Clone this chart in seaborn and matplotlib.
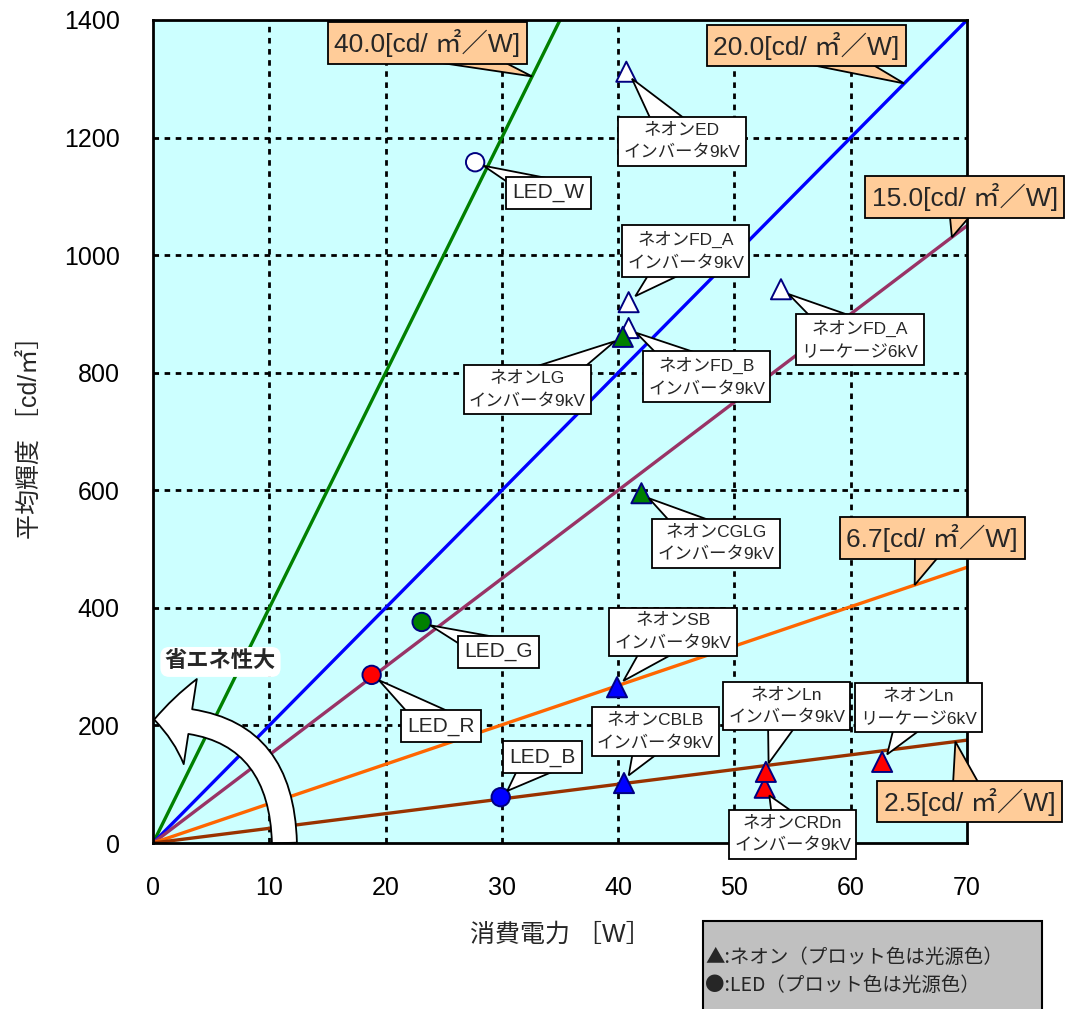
import matplotlib
matplotlib.use("Agg")
import matplotlib.pyplot as plt
import seaborn as sns
import pandas as pd
import numpy as np
from matplotlib.patches import FancyArrowPatch, Rectangle, Polygon
from matplotlib.transforms import IdentityTransform

# ---------------- data ----------------
slopes = [40.0, 20.0, 15.0, 6.7, 2.5]
slope_colors = ["#008000", "#0000ff", "#993366", "#ff6600", "#993300"]
x_range = [0, 70]

point_names = ["LED_W", "ネオンED", "ネオンFD_A", "ネオンFD_B", "ネオンLG", "ネオンFD_A_leak",
               "ネオンCGLG", "LED_G", "LED_R", "ネオンSB", "ネオンCBLB", "LED_B",
               "ネオンCRDn", "ネオンLn", "ネオンLn_leak"]
point_labels = ["LED_W", "ネオンED\nインバータ9kV", "ネオンFD_A\nインバータ9kV", "ネオンFD_B\nインバータ9kV",
                "ネオンLG\nインバータ9kV", "ネオンFD_A\nリーケージ6kV", "ネオンCGLG\nインバータ9kV",
                "LED_G", "LED_R", "ネオンSB\nインバータ9kV", "ネオンCBLB\nインバータ9kV", "LED_B",
                "ネオンCRDn\nインバータ9kV", "ネオンLn\nインバータ9kV", "ネオンLn\nリーケージ6kV"]
point_x = [27.7, 40.7, 40.9, 40.9, 40.4, 54.0, 42.0, 23.1, 18.8, 39.9, 40.5, 29.9, 52.6, 52.7, 62.7]
point_y = [1158, 1312, 920, 876, 861, 942, 595, 376, 286, 265, 102, 78, 94, 121, 138]
point_kind = ["led", "neon", "neon", "neon", "neon", "neon", "neon", "led", "led", "neon", "neon",
              "led", "neon", "neon", "neon"]
point_colors = ["#ffffff", "#ffffff", "#ffffff", "#ffffff", "#008000", "#ffffff", "#008000",
                "#008000", "#ff0000", "#0000ff", "#0000ff", "#0000ff", "#ff0000", "#ff0000", "#ff0000"]

x_ticks = [0, 10, 20, 30, 40, 50, 60, 70]
y_ticks = [0, 200, 400, 600, 800, 1000, 1200, 1400]

# ---------------- layout (label placement) ----------------
label_box_pos = [(34.0, 1106), (45.5, 1194), (45.8, 1007), (47.6, 793), (32.2, 771), (60.8, 856),
                 (48.4, 510), (29.7, 325), (24.8, 199), (44.7, 359), (43.2, 189), (33.5, 146),
                 (55.0, 15), (54.5, 233), (65.8, 230)]
slope_box_pos = [(23.6, 1361), (56.2, 1356), (69.8, 1099), (67.0, 519), (70.2, 70)]
slope_tip_x = [32.6, 64.6, 68.7, 65.5, 69.0]

# ---------------- style ----------------
sns.set_theme(style="white")
plt.rcParams["font.family"] = ["Liberation Sans", "Noto Sans CJK JP"]

fig = plt.figure(figsize=(10.65, 10.09), dpi=100)
ax = fig.add_axes([0.1437, 0.1645, 0.7643, 0.8157])
ax.set_facecolor("#ccffff")
ax.set_xlim(0, 70)
ax.set_ylim(0, 1400)

# grid
for gx in x_ticks[1:-1]:
    ax.axvline(gx, color="black", lw=2, ls=(0, (2, 2)), zorder=1)
for gy in y_ticks[1:-1]:
    ax.axhline(gy, color="black", lw=2, ls=(0, (2, 2)), zorder=1)

# slope lines
rows = []
for s, c in zip(slopes, slope_colors):
    for xv in x_range:
        rows.append({"x": xv, "y": s * xv, "line": f"{s}"})
lines_df = pd.DataFrame(rows)
sns.lineplot(data=lines_df, x="x", y="y", hue="line",
             palette={f"{s}": c for s, c in zip(slopes, slope_colors)},
             lw=2.4, legend=False, ax=ax, zorder=3)

# energy-saving arrow
arrow = FancyArrowPatch(posA=(11.3, 0), posB=(0.1, 210),
                        connectionstyle="arc3,rad=0.5",
                        arrowstyle="simple,head_length=26,head_width=62,tail_width=18",
                        mutation_scale=1, shrinkA=0, shrinkB=0,
                        fc="white", ec="black", lw=1.3, zorder=4, clip_on=False)
ax.add_patch(arrow)
ax.text(5.8, 308, "省エネ性大", fontsize=16, fontweight="bold", ha="center", va="center",
        zorder=6, bbox=dict(boxstyle="round,pad=0.2,rounding_size=0.4", fc="white", ec="none"))

# points
pts_df = pd.DataFrame({"x": point_x, "y": point_y, "name": point_names, "kind": point_kind})
sns.scatterplot(data=pts_df, x="x", y="y", hue="name",
                palette=dict(zip(point_names, point_colors)),
                style="kind", markers={"neon": "^", "led": "o"},
                size="kind", sizes={"neon": 210, "led": 175},
                edgecolor="#000080", linewidth=1.4, legend=False, ax=ax, zorder=7)

# axes
ax.set_xticks(x_ticks)
ax.set_yticks(y_ticks)
ax.tick_params(axis="both", length=0, labelsize=18, colors="black")
ax.tick_params(axis="x", pad=24)
ax.tick_params(axis="y", pad=24)
for sp in ax.spines.values():
    sp.set_visible(True)
    sp.set_color("black")
    sp.set_linewidth(2)
    sp.set_zorder(10)
ax.grid(False)

ax.set_xlabel("消費電力 ［W］", fontsize=18)
ax.set_ylabel("平均輝度 ［cd/㎡］", fontsize=18)
ax.xaxis.set_label_coords(0.5, -0.112)
ax.xaxis.label.set_va("center")
ax.yaxis.set_label_coords(-0.151, 0.5)
ax.yaxis.label.set_va("center")

# callouts: create texts first, then wedges sized to the boxes
callouts = []


def add_callout(text, box_xy, tip_xy, fc, fs, half_w, shrink_px, z, pad=0.3, ls=1.4):
    t = ax.text(box_xy[0], box_xy[1], text, ha="center", va="center", fontsize=fs,
                linespacing=ls, zorder=z + 0.5, clip_on=False,
                bbox=dict(boxstyle=f"square,pad={pad}", fc=fc, ec="black", lw=1.3))
    callouts.append((t, box_xy, tip_xy, fc, half_w, shrink_px, z))


for i, lab in enumerate(point_labels):
    fs = 15 if point_kind[i] == "led" else 12.5
    add_callout(lab, label_box_pos[i], (point_x[i], point_y[i]), "white", fs,
                half_w=20, shrink_px=9, z=11, pad=0.3, ls=1.7)

for s, bp, tx in zip(slopes, slope_box_pos, slope_tip_x):
    add_callout(f"{s:.1f}[cd/ ㎡／W]", bp, (tx, s * tx), "#ffcc99", 19,
                half_w=18, shrink_px=0, z=12, pad=0.25)

fig.canvas.draw()
renderer = fig.canvas.get_renderer()
for t, box_xy, tip_xy, fc, half_w, shrink_px, z in callouts:
    bb = t.get_bbox_patch().get_window_extent(renderer)
    c = np.array([(bb.x0 + bb.x1) / 2, (bb.y0 + bb.y1) / 2])
    hw, hh = bb.width / 2, bb.height / 2
    p_tip = ax.transData.transform(tip_xy)
    d = p_tip - c
    u = d / np.hypot(*d)
    n = np.array([-u[1], u[0]])
    lim = min(hw / max(abs(n[0]), 1e-6), hh / max(abs(n[1]), 1e-6)) * 0.85
    w = min(half_w, lim)
    tip = p_tip - u * shrink_px
    poly = Polygon([tip, c + n * w, c - n * w], closed=True,
                   transform=IdentityTransform(), fc=fc, ec="black", lw=1.3,
                   zorder=z, clip_on=False)
    ax.add_patch(poly)

# legend box
fig.patches.append(Rectangle((0.660, -0.02), 0.318, 0.107, transform=fig.transFigure,
                             fc="#c0c0c0", ec="black", lw=1.5))
fig.text(0.662, 0.0515, "▲:ネオン（プロット色は光源色）", fontsize=14, va="center", ha="left",
         family=["Noto Sans CJK JP"])
fig.text(0.662, 0.0238, "●:LED（プロット色は光源色）", fontsize=14, va="center", ha="left",
         family=["Noto Sans CJK JP"])

fig.savefig("out.png", dpi=100)
